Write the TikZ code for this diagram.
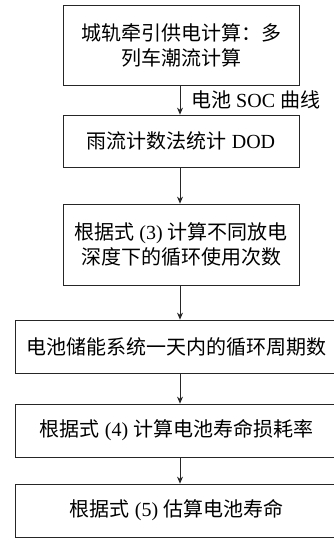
\documentclass[tikz,border=0pt]{standalone}
\usepackage{fontspec}
\setmainfont{Liberation Serif}
\newfontfamily\cjk{Noto Sans CJK SC}
\newcommand{\zh}[1]{{\cjk #1}}
\usetikzlibrary{arrows.meta}
\begin{document}
\begin{tikzpicture}[x=1pt,y=-1pt,
  box/.style={draw=black!85,line width=0.8pt,inner sep=0pt,align=center,
    font=\fontsize{20}{25}\selectfont},
  conn/.style={draw=black!85,line width=0.8pt,-{Stealth[length=7pt,width=6pt]}}]
\useasboundingbox (0,0) rectangle (334,538);
\node[box,minimum width=236pt,minimum height=80pt] (b1) at (181,45)
  {\zh{城轨牵引供电计算：多}\\\zh{列车潮流计算}};
\node[box,minimum width=236pt,minimum height=52pt] (b2) at (181,141)
  {\zh{雨流计数法统计} DOD};
\node[box,minimum width=236pt,minimum height=81pt] (b3) at (181,244.5)
  {\zh{根据式} (3) \zh{计算不同放电}\\\zh{深度下的循环使用次数}};
\node[box,minimum width=323pt,minimum height=53pt] (b4) at (176.5,346.5)
  {\zh{电池储能系统一天内的循环周期数}};
\node[box,minimum width=323pt,minimum height=53pt] (b5) at (176.5,430.5)
  {\zh{根据式} (4) \zh{计算电池寿命损耗率}};
\node[box,minimum width=323pt,minimum height=53pt] (b6) at (176.5,510.5)
  {\zh{根据式} (5) \zh{估算电池寿命}};
\coordinate (ax) at (180,0);
\draw[conn] (b1.south -| ax) -- (b2.north -| ax);
\draw[conn] (b2.south -| ax) -- (b3.north -| ax);
\draw[conn] (b3.south -| ax) -- (b4.north -| ax);
\draw[conn] (b4.south -| ax) -- (b5.north -| ax);
\draw[conn] (b5.south -| ax) -- (b6.north -| ax);
\node[anchor=west,inner sep=0pt,font=\fontsize{20}{25}\selectfont] (lab) at (191,100)
  {\zh{电池} SOC \zh{曲线}};
\end{tikzpicture}
\end{document}
